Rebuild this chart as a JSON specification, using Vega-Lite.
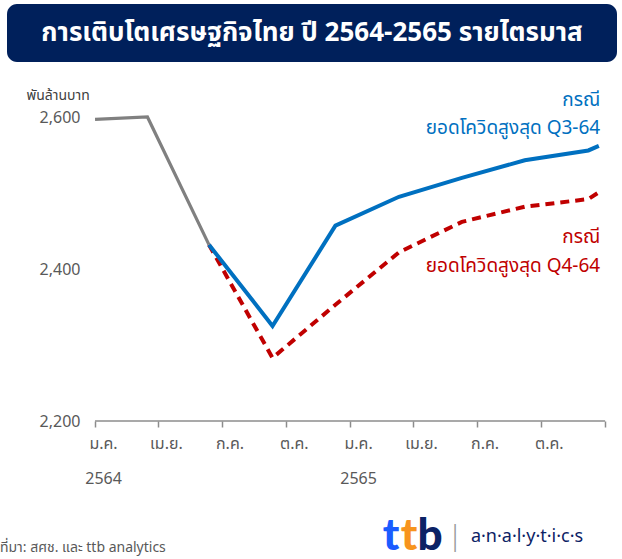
{
  "$schema": "https://vega.github.io/schema/vega-lite/v6.json",
  "background": "white",
  "padding": {"left": 0, "top": 4, "right": 0, "bottom": 0},
  "bounds": "flush",
  "spacing": 55,
  "config": {
    "view": {"stroke": null},
    "font": "Noto Sans Thai, Noto Sans, sans-serif"
  },
  "vconcat": [
    {
      "width": 610,
      "height": 58,
      "view": {"fill": "#00205B", "stroke": null, "cornerRadius": 10},
      "data": {"values": [{"title": "การเติบโตเศรษฐกิจไทย ปี 2564-2565 รายไตรมาส"}]},
      "mark": {"type": "text", "color": "white", "fontSize": 26, "fontWeight": "bold"},
      "encoding": {"text": {"field": "title"}}
    },
    {
      "width": 610,
      "height": 304,
      "data": {
        "values": [
          {"series": "actual", "date": "2021-01-01", "value": 2597},
          {"series": "actual", "date": "2021-03-17", "value": 2600},
          {"series": "actual", "date": "2021-06-13", "value": 2432},
          {"series": "Q3-64", "date": "2021-06-13", "value": 2432},
          {"series": "Q3-64", "date": "2021-09-12", "value": 2325},
          {"series": "Q3-64", "date": "2021-12-11", "value": 2457},
          {"series": "Q3-64", "date": "2022-03-12", "value": 2495},
          {"series": "Q3-64", "date": "2022-06-10", "value": 2520},
          {"series": "Q3-64", "date": "2022-09-08", "value": 2543},
          {"series": "Q3-64", "date": "2022-12-08", "value": 2556},
          {"series": "Q3-64", "date": "2022-12-23", "value": 2562},
          {"series": "Q4-64", "date": "2021-06-13", "value": 2432},
          {"series": "Q4-64", "date": "2021-09-12", "value": 2283},
          {"series": "Q4-64", "date": "2021-12-11", "value": 2353},
          {"series": "Q4-64", "date": "2022-03-12", "value": 2422},
          {"series": "Q4-64", "date": "2022-06-10", "value": 2462},
          {"series": "Q4-64", "date": "2022-09-08", "value": 2482},
          {"series": "Q4-64", "date": "2022-12-08", "value": 2492},
          {"series": "Q4-64", "date": "2022-12-23", "value": 2501}
        ]
      },
      "encoding": {
        "x": {
          "field": "date",
          "type": "temporal",
          "scale": {
            "domain": [
              {"year": 2020, "month": 8, "date": 28},
              {"year": 2023, "month": 1, "date": 18}
            ]
          },
          "axis": {
            "title": null,
            "grid": false,
            "values": [
              {"year": 2021, "month": 1, "date": 1},
              {"year": 2021, "month": 4, "date": 1},
              {"year": 2021, "month": 7, "date": 1},
              {"year": 2021, "month": 10, "date": 1},
              {"year": 2022, "month": 1, "date": 1},
              {"year": 2022, "month": 4, "date": 1},
              {"year": 2022, "month": 7, "date": 1},
              {"year": 2022, "month": 10, "date": 1},
              {"year": 2023, "month": 1, "date": 1}
            ],
            "labelExpr": "year(datum.value) == 2023 ? '' : (month(datum.value) == 0 ? ['ม.ค.', '' + (year(datum.value) + 543)] : (month(datum.value) == 3 ? 'เม.ย.' : (month(datum.value) == 6 ? 'ก.ค.' : 'ต.ค.')))",
            "labelOffset": 8,
            "labelAlign": "center",
            "labelBaseline": "top",
            "labelLineHeight": 35,
            "labelPadding": 8,
            "labelFontSize": 16,
            "labelColor": "#595959",
            "labelFlush": false,
            "labelOverlap": false,
            "domain": false,
            "ticks": true,
            "tickColor": "#8c8c8c",
            "tickWidth": 1.5,
            "tickSize": 6
          }
        },
        "y": {
          "field": "value",
          "type": "quantitative",
          "scale": {"domain": [2200, 2600], "nice": false, "zero": false},
          "axis": {
            "values": [2200, 2400, 2600],
            "format": ",d",
            "offset": -88,
            "domain": false,
            "ticks": false,
            "grid": false,
            "labelPadding": 15,
            "labelFontSize": 16,
            "labelColor": "#595959",
            "title": "พันล้านบาท",
            "titleAngle": 0,
            "titleAlign": "left",
            "titleBaseline": "middle",
            "titleX": -69,
            "titleY": -22,
            "titleFontSize": 14,
            "titleFontWeight": "normal",
            "titleColor": "#404040"
          }
        }
      },
      "layer": [
        {
          "data": {
            "values": [
              {"d0": "2021-01-01", "d1": "2023-01-01", "v": 2200}
            ]
          },
          "mark": {"type": "rule", "color": "#8c8c8c", "strokeWidth": 1.5},
          "encoding": {
            "x": {"field": "d0", "type": "temporal"},
            "x2": {"field": "d1"},
            "y": {"field": "v", "type": "quantitative"}
          }
        },
        {
          "transform": [{"filter": "datum.series === 'Q4-64'"}],
          "mark": {"type": "line", "color": "#C00000", "strokeWidth": 4, "strokeDash": [9, 6]}
        },
        {
          "transform": [{"filter": "datum.series === 'Q3-64'"}],
          "mark": {"type": "line", "color": "#0070C0", "strokeWidth": 4}
        },
        {
          "transform": [{"filter": "datum.series === 'actual'"}],
          "mark": {"type": "line", "color": "#808080", "strokeWidth": 3.2}
        },
        {
          "data": {
            "values": [
              {"series": "Q3-64", "date": "2022-12-25", "value": 2622, "label": "กรณี"},
              {"series": "Q3-64", "date": "2022-12-25", "value": 2585, "label": "ยอดโควิดสูงสุด Q3-64"},
              {"series": "Q4-64", "date": "2022-12-25", "value": 2442, "label": "กรณี"},
              {"series": "Q4-64", "date": "2022-12-25", "value": 2404, "label": "ยอดโควิดสูงสุด Q4-64"}
            ]
          },
          "mark": {"type": "text", "align": "right", "baseline": "middle", "fontSize": 19},
          "encoding": {
            "text": {"field": "label"},
            "color": {
              "field": "series",
              "type": "nominal",
              "scale": {"domain": ["Q3-64", "Q4-64"], "range": ["#0070C0", "#C00000"]},
              "legend": null
            }
          }
        }
      ]
    },
    {
      "width": 610,
      "height": 83,
      "layer": [
        {
          "data": {"values": [{"label": "ที่มา: สศช. และ ttb analytics"}]},
          "mark": {"type": "text", "align": "left", "dx": -312, "dy": 30, "fontSize": 14, "color": "#595959"},
          "encoding": {"text": {"field": "label"}}
        },
        {
          "data": {"values": [{"label": "t"}]},
          "mark": {"type": "text", "dx": 79, "dy": 19, "fontSize": 44, "fontWeight": 900, "color": "#1A5CFF", "font": "Lato"},
          "encoding": {"text": {"field": "label"}}
        },
        {
          "data": {"values": [{"label": "t"}]},
          "mark": {"type": "text", "dx": 97, "dy": 19, "fontSize": 44, "fontWeight": 900, "color": "#F7941D", "font": "Lato"},
          "encoding": {"text": {"field": "label"}}
        },
        {
          "data": {"values": [{"label": "b"}]},
          "mark": {"type": "text", "dx": 118, "dy": 19, "fontSize": 44, "fontWeight": 900, "color": "#0B2265", "font": "Lato"},
          "encoding": {"text": {"field": "label"}}
        },
        {
          "data": {"values": [{"label": "|"}]},
          "mark": {"type": "text", "dx": 143, "dy": 19, "fontSize": 28, "fontWeight": 300, "color": "#999999"},
          "encoding": {"text": {"field": "label"}}
        },
        {
          "data": {"values": [{"label": "a·n·a·l·y·t·i·c·s"}]},
          "mark": {"type": "text", "dx": 215, "dy": 19, "fontSize": 18, "color": "#0B2265"},
          "encoding": {"text": {"field": "label"}}
        }
      ]
    }
  ]
}
